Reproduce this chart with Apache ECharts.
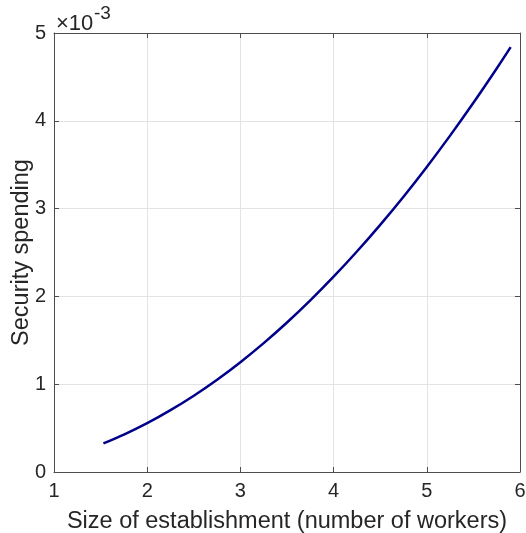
<!DOCTYPE html>
<html><head><meta charset="utf-8">
<script src="https://cdn.jsdelivr.net/npm/echarts@6/dist/echarts.min.js"></script>
<style>html,body{margin:0;padding:0;background:#fff}#c{width:526px;height:533px}</style>
</head><body><div id="c"></div>
<script>
// Data (y values in units of 1e-3)
const workers = [1.53, 1.75, 2.0, 2.25, 2.5, 2.75, 3.0, 3.25, 3.5, 3.75, 4.0, 4.25, 4.5, 4.75, 5.0, 5.25, 5.5, 5.75, 5.9];
const spending = [0.325, 0.426, 0.556, 0.704, 0.869, 1.051, 1.251, 1.468, 1.703, 1.955, 2.224, 2.511, 2.815, 3.136, 3.475, 3.831, 4.205, 4.596, 4.839];
const xTicks = [1, 2, 3, 4, 5, 6];
const yTicks = [0, 1, 2, 3, 4, 5];
const xTitle = 'Size of establishment (number of workers)';
const yTitle = 'Security spending';
const expBase = '×10';
const expPower = '-3';

const axisColor = '#4d4d4d';
const textColor = '#262626';
const font = 'Liberation Sans, Arial, Helvetica, sans-serif';
const chart = echarts.init(document.getElementById('c'));
const baseX = {
  type: 'value', min: xTicks[0], max: xTicks[xTicks.length - 1], interval: 1,
  axisLine: { show: true, onZero: false, lineStyle: { color: axisColor, width: 1 } },
  axisTick: { show: true, inside: true, length: 5, lineStyle: { color: axisColor } },
  splitLine: { show: false }
};
const baseY = {
  type: 'value', min: yTicks[0], max: yTicks[yTicks.length - 1], interval: 1,
  axisLine: { show: true, onZero: false, lineStyle: { color: axisColor, width: 1 } },
  axisTick: { show: true, inside: true, length: 5, lineStyle: { color: axisColor } },
  splitLine: { show: false }
};
chart.setOption({
  animation: false,
  grid: { left: 54, right: 6, top: 33, bottom: 61, containLabel: false, outerBoundsMode: 'none' },
  graphic: [
    { type: 'text', x: 56, y: 35, style: { text: expBase, fontSize: 22, fontFamily: font, fill: textColor, verticalAlign: 'bottom' } },
    { type: 'text', x: 94, y: 23, style: { text: expPower, fontSize: 19, fontFamily: font, fill: textColor, verticalAlign: 'bottom' } }
  ],
  xAxis: [
    Object.assign({}, baseX, {
      position: 'bottom',
      splitLine: { show: true, lineStyle: { color: '#e3e3e3', width: 1 } },
      axisLabel: { fontSize: 20, color: textColor, fontFamily: font, margin: 9 },
      name: xTitle, nameLocation: 'middle', nameGap: 38, nameMoveOverlap: false,
      nameTextStyle: { fontSize: 23.5, color: textColor, fontFamily: font }
    }),
    Object.assign({}, baseX, { position: 'top', axisLabel: { show: false } })
  ],
  yAxis: [
    Object.assign({}, baseY, {
      position: 'left',
      splitLine: { show: true, lineStyle: { color: '#e3e3e3', width: 1 } },
      axisLabel: { fontSize: 20, color: textColor, fontFamily: font, margin: 8 },
      name: yTitle, nameLocation: 'middle', nameGap: 20, nameRotate: 90, nameMoveOverlap: false,
      nameTextStyle: { fontSize: 23.5, color: textColor, fontFamily: font }
    }),
    Object.assign({}, baseY, { position: 'right', axisLabel: { show: false } })
  ],
  series: [{
    type: 'line', xAxisIndex: 0, yAxisIndex: 0,
    data: workers.map((x, i) => [x, spending[i]]),
    smooth: 0.3, showSymbol: false,
    lineStyle: { color: '#00008b', width: 2.5 }
  }]
});
</script></body></html>
